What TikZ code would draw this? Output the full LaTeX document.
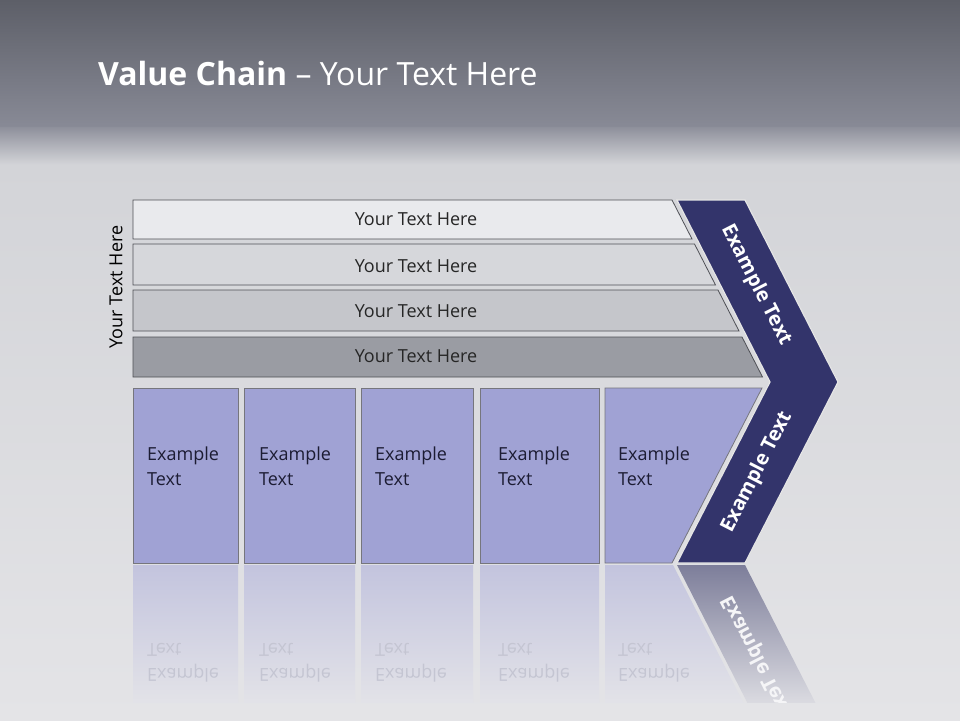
\documentclass[tikz,border=0pt]{standalone}
\usepackage{fontspec}
\setmainfont{Open Sans}
\definecolor{hdtop}{HTML}{5D5F68}
\definecolor{hdbot}{HTML}{888A96}
\definecolor{bodytop}{HTML}{D3D4D8}
\definecolor{bodybot}{HTML}{E4E4E7}
\definecolor{barA}{HTML}{E9EAED}
\definecolor{barB}{HTML}{D6D7DB}
\definecolor{barC}{HTML}{C5C6CB}
\definecolor{barD}{HTML}{9A9CA3}
\definecolor{barline}{HTML}{4F5056}
\definecolor{boxfill}{HTML}{A0A2D4}
\definecolor{boxline}{HTML}{76767D}
\definecolor{navy}{HTML}{33346B}
\definecolor{txtdark}{HTML}{262626}
\definecolor{txtbox}{HTML}{1C1C33}
\definecolor{refltop}{HTML}{C3C4DE}
\definecolor{reflbot}{HTML}{E3E3E8}
\definecolor{refltxt}{HTML}{C4C5D2}
\definecolor{armtop}{HTML}{7D7E9A}
\definecolor{armbot}{HTML}{DCDCE2}
\begin{document}
\begin{tikzpicture}[x=1pt,y=-1pt,
  barshape/.style={draw=barline, line width=0.8pt},
  boxshape/.style={draw=boxline, line width=0.8pt, fill=boxfill},
  bartext/.style={font=\fontsize{18}{22}\selectfont, text=txtdark, inner sep=0pt},
  boxtext/.style={font=\fontsize{18}{25}\selectfont, text=txtbox, inner sep=0pt, anchor=base west, align=left},
  refltext/.style={font=\fontsize{18}{25}\selectfont, text=refltxt, inner sep=0pt, anchor=base west, align=left, yscale=-1},
  chevtext/.style={font=\bfseries\fontsize{20}{24}\selectfont, text=white, inner sep=0pt},
  reflbox/.style={top color=refltop, bottom color=reflbot}
]
\useasboundingbox (0,0) rectangle (960,720);
% background
\shade[top color=bodytop, bottom color=bodybot] (0,164) rectangle (960,720);
\shade[top color=hdtop, bottom color=hdbot] (0,0) rectangle (960,127);
\shade[top color=hdbot!95!white, bottom color=bodytop] (0,127) rectangle (960,164.5);
% title
\node[anchor=base west, inner sep=0pt, text=white, font=\fontsize{32}{38}\selectfont] (title) at (98,85) {\textbf{Value Chain} – Your Text Here};
% side label
\node[rotate=90, bartext, text=black] (side) at (116,287) {Your Text Here};
% bars
\filldraw[barshape, fill=barA] (133,200) -- (672,200) -- (692,239) -- (133,239) -- cycle;
\filldraw[barshape, fill=barB] (133,244) -- (694.5,244) -- (715.5,285) -- (133,285) -- cycle;
\filldraw[barshape, fill=barC] (133,290) -- (718,290) -- (739,331) -- (133,331) -- cycle;
\filldraw[barshape, fill=barD] (133,337) -- (742,337) -- (762.5,377) -- (133,377) -- cycle;
\node[bartext] (b1) at (416,219) {Your Text Here};
\node[bartext] (b2) at (416,266) {Your Text Here};
\node[bartext] (b3) at (416,311) {Your Text Here};
\node[bartext] (b4) at (416,356) {Your Text Here};
% boxes
\filldraw[boxshape] (133,388) rectangle (238,563);
\filldraw[boxshape] (244,388) rectangle (355,563);
\filldraw[boxshape] (361,388) rectangle (473,563);
\filldraw[boxshape] (480,388) rectangle (599,563);
\filldraw[boxshape] (605,388) -- (762,388) -- (672,563) -- (605,563) -- cycle;
\node[boxtext] (x1) at (147,485) {Example\\Text};
\node[boxtext] (x2) at (259,485) {Example\\Text};
\node[boxtext] (x3) at (375,485) {Example\\Text};
\node[boxtext] (x4) at (498,485) {Example\\Text};
\node[boxtext] (x5) at (618,485) {Example\\Text};
% chevron
\filldraw[fill=navy, draw=white!80!gray, line width=1.2pt] (677,200) -- (745,200) -- (838,382) -- (745,563) -- (677,563) -- (770,382) -- cycle;
\node[chevtext, rotate=-62.9] (c1) at (756,285) {Example Text};
\node[chevtext, rotate=62.9] (c2) at (757,472) {Example Text};
% reflection
\begin{scope}
\clip (0,565) rectangle (960,702);
\shade[reflbox] (133,565) rectangle (238,705);
\shade[reflbox] (244,565) rectangle (355,705);
\shade[reflbox] (361,565) rectangle (473,705);
\shade[reflbox] (480,565) rectangle (599,705);
\shade[reflbox] (605,565) -- (673,565) -- (744.5,705) -- (605,705) -- cycle;
\shade[top color=armtop, bottom color=armbot] (677,565) -- (745,565) -- (816.5,705) -- (748.5,705) -- cycle;
\node[refltext] (r1) at (147,643) {Example\\Text};
\node[refltext] (r2) at (259,643) {Example\\Text};
\node[refltext] (r3) at (375,643) {Example\\Text};
\node[refltext] (r4) at (498,643) {Example\\Text};
\node[refltext] (r5) at (618,643) {Example\\Text};
\node[chevtext, text=white!92!armtop, rotate=-62.9, yscale=-1] (rc) at (757,656) {Example Text};
\end{scope}
\end{tikzpicture}
\end{document}
